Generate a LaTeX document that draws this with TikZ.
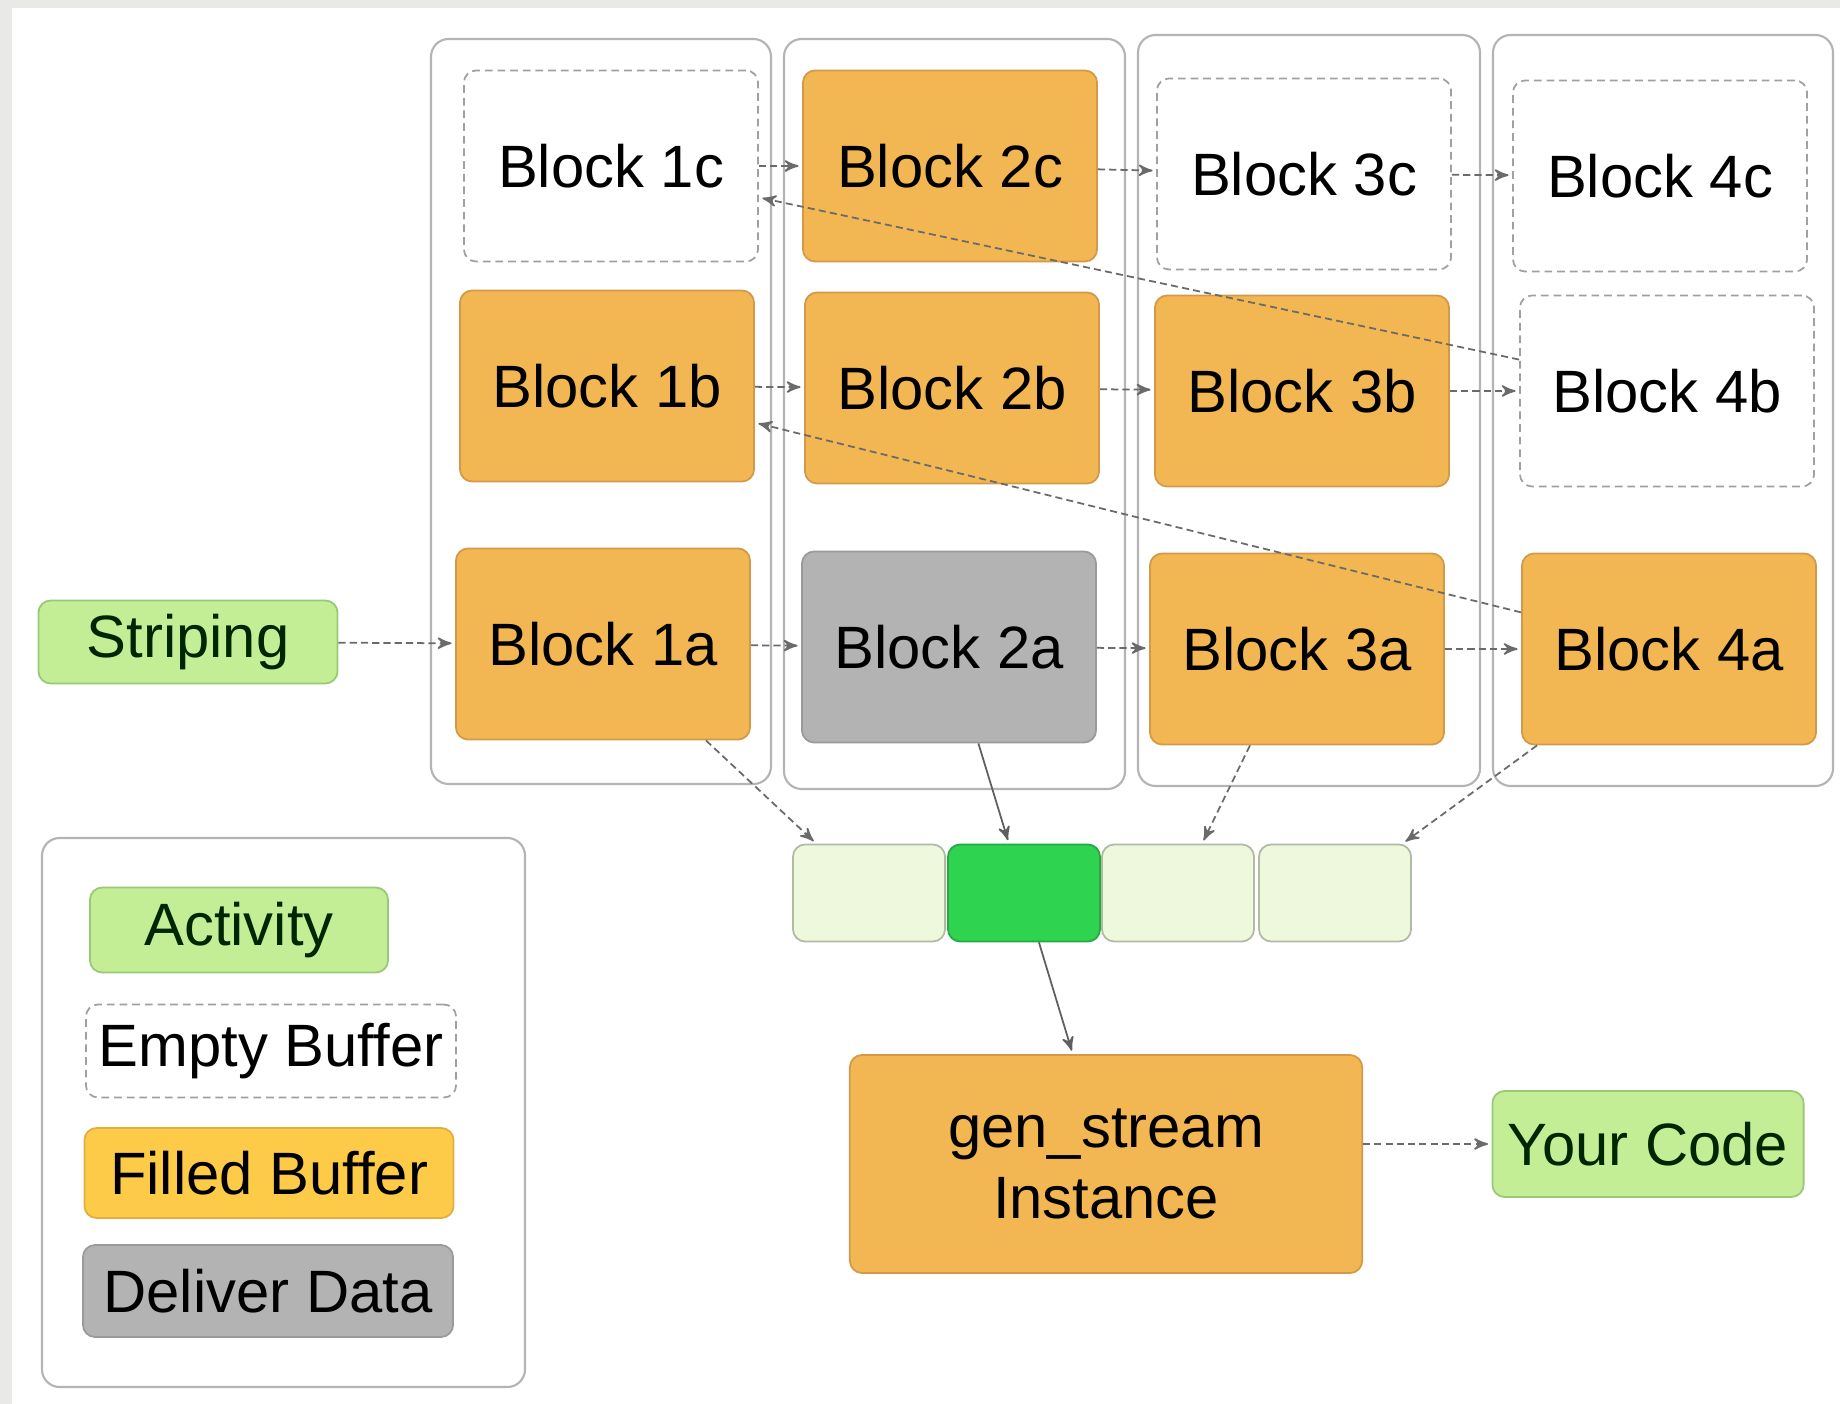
\documentclass[tikz,border=0pt]{standalone}
\usepackage{fontspec}
\setmainfont{Liberation Sans}
\usetikzlibrary{arrows,shapes}
\definecolor{orangefill}{HTML}{F2B752}
\definecolor{orangeline}{HTML}{D29A48}
\definecolor{yellowfill}{HTML}{FDCB48}
\definecolor{yellowline}{HTML}{E2AE40}
\definecolor{grayfill}{HTML}{B3B3B3}
\definecolor{grayline}{HTML}{9A9A9A}
\definecolor{greenfill}{HTML}{C4EE96}
\definecolor{greenline}{HTML}{98C878}
\definecolor{slotfill}{HTML}{EEF8DC}
\definecolor{slotline}{HTML}{B2BAA4}
\definecolor{darkgreen}{HTML}{2ED450}
\definecolor{darkgreenline}{HTML}{27A843}
\definecolor{framegray}{HTML}{B4B4B4}
\definecolor{dashgray}{HTML}{A0A0A0}
\definecolor{linkgray}{HTML}{6A6A6A}
\definecolor{bggray}{HTML}{E9EAE8}

\begin{document}
\begin{tikzpicture}[->,>=stealth',shorten >=1pt,x=0.01cm,y=-0.01cm,line width=0.5pt]
\tikzstyle{every node}=[font=\fontsize{17}{20}\selectfont,inner sep=0pt]
\tikzstyle{box}=[rectangle,rounded corners=3.5pt]
\tikzstyle{buffer}=[box,minimum width=2.94cm,minimum height=1.91cm]
\tikzstyle{filledbuf}=[buffer,draw=orangeline,fill=orangefill]
\tikzstyle{emptybuf}=[buffer,draw=dashgray,fill=white,dash pattern=on 2.2pt off 1.4pt]
\tikzstyle{deliverbuf}=[buffer,draw=grayline,fill=grayfill]
\tikzstyle{activity}=[box,draw=greenline,fill=greenfill,text=black!85!green]
\tikzstyle{slot}=[box,draw=slotline,fill=slotfill,minimum width=1.52cm,minimum height=0.97cm]
\tikzstyle{frame}=[-,draw=framegray,line width=0.6pt,rounded corners=5pt,fill=white]
\tikzstyle{link}=[draw=linkgray,dash pattern=on 2pt off 1.2pt]
\tikzstyle{flow}=[draw=linkgray!90!black]
\useasboundingbox (0,0) rectangle (1840,1404);
\fill[white] (0,0) rectangle (1840,1404);
\fill[bggray] (0,0) rectangle (1840,8);
\fill[bggray] (0,0) rectangle (12,1404);
% columns and legend frame
\draw[frame] (431,39) rectangle (771,784);
\draw[frame] (784,39) rectangle (1125,789);
\draw[frame] (1138,35) rectangle (1480,786);
\draw[frame] (1493,35) rectangle (1833,786);
\draw[frame] (42,838) rectangle (525,1387);
% blocks
\node[emptybuf] (b1c) at (611,166) {Block 1c};
\node[filledbuf] (b2c) at (950,166) {Block 2c};
\node[emptybuf] (b3c) at (1304,174) {Block 3c};
\node[emptybuf] (b4c) at (1660,176) {Block 4c};
\node[filledbuf] (b1b) at (607,386) {Block 1b};
\node[filledbuf] (b2b) at (952,388) {Block 2b};
\node[filledbuf] (b3b) at (1302,391) {Block 3b};
\node[emptybuf] (b4b) at (1667,391) {Block 4b};
\node[filledbuf] (b1a) at (603,644) {Block 1a};
\node[deliverbuf] (b2a) at (949,647) {Block 2a};
\node[filledbuf] (b3a) at (1297,649) {Block 3a};
\node[filledbuf] (b4a) at (1669,649) {Block 4a};
\node[activity,minimum width=2.99cm,minimum height=0.83cm] (strip) at (188,642) {Striping};
% ring of slots
\node[slot] (s1) at (869,893) {};
\node[slot,draw=darkgreenline,fill=darkgreen] (s2) at (1024,893) {};
\node[slot] (s3) at (1178,893) {};
\node[slot] (s4) at (1335,893) {};
\node[filledbuf,minimum width=5.12cm,minimum height=2.18cm,align=center] (gen) at (1106,1164) {gen\_stream\\Instance};
\node[activity,minimum width=3.11cm,minimum height=1.06cm] (code) at (1648,1144) {Your Code};
% legend
\node[activity,minimum width=2.98cm,minimum height=0.85cm] (lact) at (239,930) {Activity};
\node[emptybuf,minimum width=3.70cm,minimum height=0.93cm] (lempty) at (271,1051) {Empty Buffer};
\node[buffer,draw=yellowline,fill=yellowfill,minimum width=3.69cm,minimum height=0.90cm] (lfill) at (269,1173) {Filled Buffer};
\node[deliverbuf,minimum width=3.70cm,minimum height=0.92cm] (ldel) at (268,1291) {Deliver Data};
\path (strip) edge[link] (b1a)
      (b1a) edge[link] (b2a)
      (b2a) edge[link] (b3a)
      (b3a) edge[link] (b4a)
      (b1b) edge[link] (b2b)
      (b2b) edge[link] (b3b)
      (b3b) edge[link] (b4b)
      (b1c) edge[link] (b2c)
      (b2c) edge[link] (b3c)
      (b3c) edge[link] (b4c)
      (b4a) edge[link] (b1b)
      (b4b) edge[link] (b1c)
      (b1a) edge[link] (s1)
      (b2a) edge[flow] (s2)
      (b3a) edge[link] (s3)
      (b4a) edge[link] (s4)
      (s2) edge[flow] (gen)
      (gen.east |- code) edge[link] (code);
\end{tikzpicture}
\end{document}
